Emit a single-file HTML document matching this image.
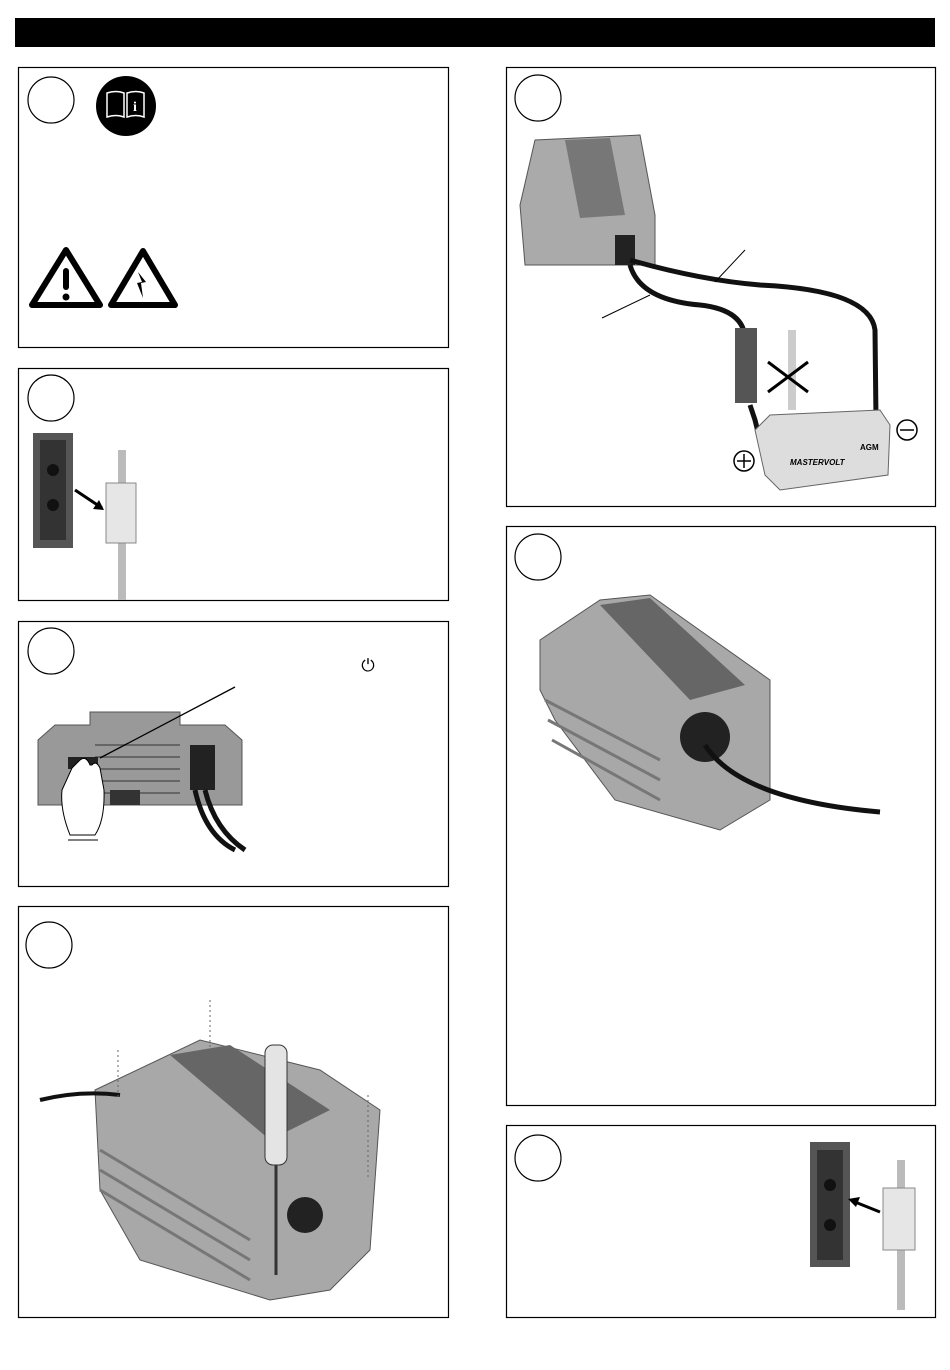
<!DOCTYPE html>
<html><head><meta charset="utf-8"><style>
html,body{margin:0;padding:0;background:#fff;width:950px;height:1370px;overflow:hidden}
svg{display:block}
</style></head><body>
<svg width="950" height="1370" viewBox="0 0 950 1370" xmlns="http://www.w3.org/2000/svg" font-family="Liberation Sans, sans-serif">
<rect x="15" y="18" width="920" height="29" fill="#000"/>
<g fill="none" stroke="#000" stroke-width="1.2">
<rect x="18.5" y="67.5" width="430" height="280"/>
<rect x="18.5" y="368.5" width="430" height="232"/>
<rect x="18.5" y="621.5" width="430" height="265"/>
<rect x="18.5" y="906.5" width="430" height="411"/>
<rect x="506.5" y="67.5" width="429" height="439"/>
<rect x="506.5" y="526.5" width="429" height="579"/>
<rect x="506.5" y="1125.5" width="429" height="192"/>
<circle cx="51" cy="100" r="23"/>
<circle cx="51" cy="398" r="23"/>
<circle cx="51" cy="651" r="23"/>
<circle cx="49" cy="945" r="23"/>
<circle cx="538" cy="98" r="23"/>
<circle cx="538" cy="557" r="23"/>
<circle cx="538" cy="1158" r="23"/>
</g>
<!-- info book icon -->
<circle cx="126" cy="106" r="30" fill="#000"/>
<path d="M107 93 q9-3 17 0 v24 q-8-3-17 0z M127 93 q9-3 17 0 v24 q-8-3-17 0z" fill="none" stroke="#fff" stroke-width="1.5"/>
<text x="135" y="111" fill="#fff" font-size="14" font-weight="bold" text-anchor="middle" font-family="Liberation Serif, serif">i</text>
<!-- warnings -->
<path d="M66 250 L100 305 L32 305Z" fill="none" stroke="#000" stroke-width="6" stroke-linejoin="round"/>
<rect x="63" y="268" width="6" height="22" rx="3" fill="#000"/><circle cx="66" cy="297" r="3.5" fill="#000"/>
<path d="M143 251 L175 305 L111 305Z" fill="none" stroke="#000" stroke-width="6" stroke-linejoin="round"/>
<path d="M138 272 L146 282 L141 283 L143 298 L137 283 L142 282Z" fill="#000"/>
<!-- box2 fuse holder and fuse -->
<rect x="33" y="433" width="40" height="115" fill="#555"/>
<rect x="40" y="440" width="26" height="100" fill="#333"/>
<circle cx="53" cy="470" r="6" fill="#111"/><circle cx="53" cy="505" r="6" fill="#111"/>
<rect x="118" y="450" width="8" height="150" fill="#bbb"/>
<rect x="106" y="483" width="30" height="60" fill="#e6e6e6" stroke="#888"/>
<path d="M75 490 L102 508" stroke="#000" stroke-width="3"/><path d="M104 510 L93 509 L99 500Z" fill="#000"/>
<!-- box3 inverter front -->
<path d="M38 740 L55 725 L90 725 L90 712 L180 712 L180 725 L225 725 L242 740 L242 805 L38 805Z" fill="#999" stroke="#555"/>
<g stroke="#666" stroke-width="2"><line x1="95" y1="745" x2="180" y2="745"/><line x1="95" y1="757" x2="180" y2="757"/><line x1="95" y1="769" x2="180" y2="769"/><line x1="95" y1="781" x2="180" y2="781"/><line x1="95" y1="793" x2="180" y2="793"/></g>
<rect x="190" y="745" width="25" height="45" fill="#222"/>
<rect x="68" y="757" width="30" height="12" fill="#222"/>
<rect x="110" y="790" width="30" height="15" fill="#333"/>
<path d="M205 790 Q215 830 245 850" stroke="#111" stroke-width="5" fill="none"/>
<path d="M195 790 Q205 835 235 850" stroke="#111" stroke-width="5" fill="none"/>
<line x1="235" y1="687" x2="100" y2="758" stroke="#000" stroke-width="1.3"/>
<path d="M72 768 L80 760 Q86 755 90 765 L92 765 Q96 760 100 768 L104 790 Q105 820 95 835 L70 835 Q60 810 62 790Z" fill="#fff" stroke="#000"/>
<line x1="68" y1="840" x2="98" y2="840" stroke="#000"/>
<text x="368" y="671" font-size="17" text-anchor="middle">⏻</text>
<!-- box4 inverter with screwdriver -->
<path d="M95 1090 L200 1040 L320 1070 L380 1110 L370 1250 L330 1290 L270 1300 L140 1260 L100 1190Z" fill="#a8a8a8" stroke="#555"/>
<path d="M170 1055 L230 1045 L330 1110 L270 1140Z" fill="#666"/>
<g stroke="#777" stroke-width="3"><line x1="100" y1="1150" x2="250" y2="1240"/><line x1="100" y1="1170" x2="250" y2="1260"/><line x1="100" y1="1190" x2="250" y2="1280"/></g>
<circle cx="305" cy="1215" r="18" fill="#222"/>
<path d="M40 1100 Q80 1090 120 1095" stroke="#111" stroke-width="4" fill="none"/>
<rect x="265" y="1045" width="22" height="120" rx="8" fill="#e4e4e4" stroke="#333"/>
<line x1="276" y1="1165" x2="276" y2="1275" stroke="#333" stroke-width="3"/>
<g stroke="#666" stroke-dasharray="2,3"><line x1="118" y1="1050" x2="118" y2="1100"/><line x1="210" y1="1000" x2="210" y2="1050"/><line x1="368" y1="1095" x2="368" y2="1180"/></g>
<!-- box5 inverter, battery -->
<path d="M520 205 L535 140 L640 135 L655 215 L655 265 L525 265Z" fill="#aaa" stroke="#555"/>
<path d="M565 140 L610 138 L625 215 L580 218Z" fill="#777"/>
<rect x="615" y="235" width="20" height="30" fill="#222"/>
<path d="M630 260 Q700 280 760 285 Q870 290 875 330 L876 420" stroke="#111" stroke-width="5" fill="none"/>
<path d="M630 265 Q640 300 700 305 Q745 310 745 340" stroke="#111" stroke-width="5" fill="none"/>
<path d="M750 405 L755 420 L760 440" stroke="#111" stroke-width="5" fill="none"/>
<rect x="735" y="328" width="22" height="75" fill="#555"/>
<rect x="788" y="330" width="8" height="80" fill="#ccc"/>
<path d="M768 362 L808 392 M808 362 L768 392" stroke="#000" stroke-width="3"/>
<path d="M755 430 L770 415 L880 410 L890 425 L888 475 L780 490 L765 475Z" fill="#ddd" stroke="#666"/>
<text x="790" y="465" font-size="8" font-style="italic" font-weight="bold">MASTERVOLT</text>
<text x="860" y="450" font-size="8" font-weight="bold">AGM</text>
<line x1="715" y1="282" x2="745" y2="250" stroke="#000"/>
<line x1="602" y1="318" x2="650" y2="295" stroke="#000"/>
<circle cx="744" cy="461" r="10" fill="#fff" stroke="#000" stroke-width="1.5"/><path d="M737 461h14M744 454v14" stroke="#000" stroke-width="1.5"/>
<circle cx="907" cy="430" r="10" fill="#fff" stroke="#000" stroke-width="1.5"/><path d="M900 430h14" stroke="#000" stroke-width="1.5"/>
<!-- box6 inverter -->
<path d="M540 640 L600 600 L650 595 L770 680 L770 800 L720 830 L615 800 L555 720 L540 690Z" fill="#a8a8a8" stroke="#555"/>
<path d="M600 605 L650 598 L745 685 L690 700Z" fill="#666"/>
<g stroke="#777" stroke-width="3"><line x1="545" y1="700" x2="660" y2="760"/><line x1="548" y1="720" x2="660" y2="780"/><line x1="552" y1="740" x2="660" y2="800"/></g>
<circle cx="705" cy="737" r="25" fill="#222"/>
<path d="M705 745 Q740 800 880 812" stroke="#111" stroke-width="5" fill="none"/>
<!-- box7 fuse holder -->
<rect x="810" y="1142" width="40" height="125" fill="#555"/>
<rect x="817" y="1150" width="26" height="110" fill="#333"/>
<circle cx="830" cy="1185" r="6" fill="#111"/><circle cx="830" cy="1225" r="6" fill="#111"/>
<rect x="897" y="1160" width="8" height="150" fill="#bbb"/>
<rect x="883" y="1188" width="32" height="62" fill="#e6e6e6" stroke="#888"/>
<path d="M880 1212 L855 1202" stroke="#000" stroke-width="3"/><path d="M848 1199 L860 1197 L856 1207Z" fill="#000"/>
</svg>
</body></html>
